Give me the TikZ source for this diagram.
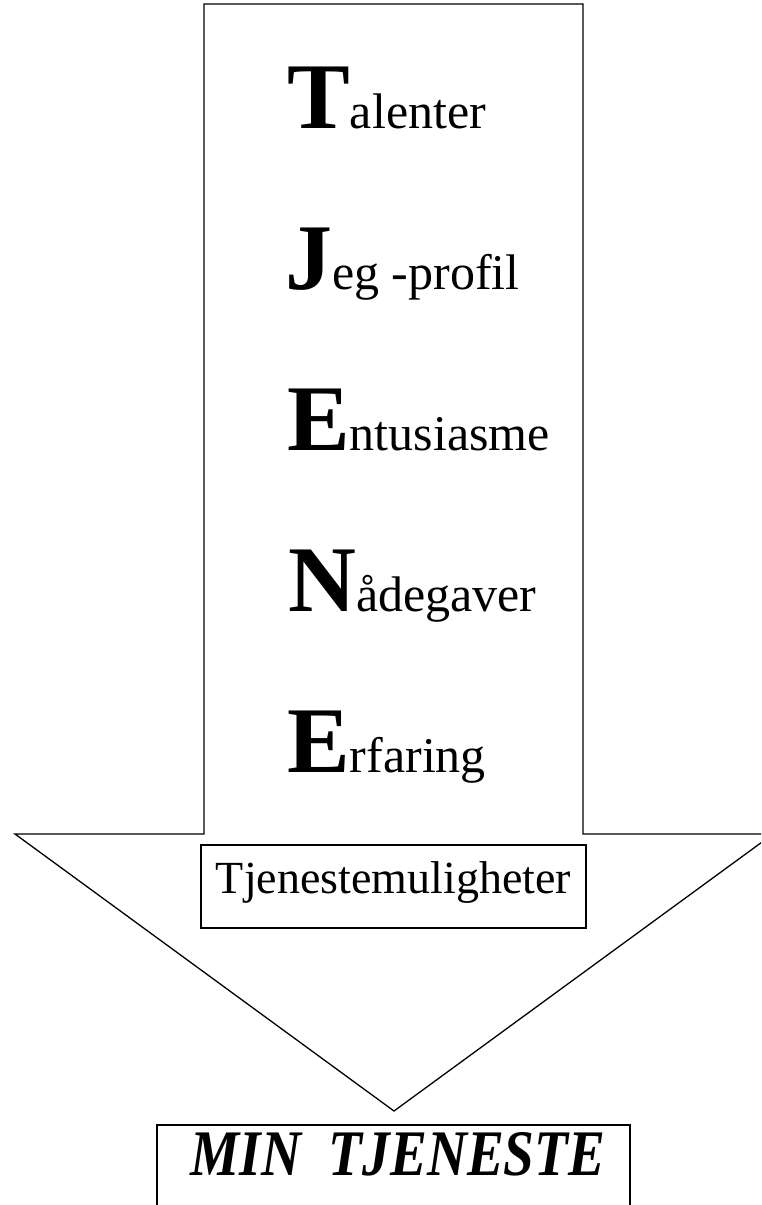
\documentclass[tikz,border=0pt]{standalone}
\usepackage{fontspec}
\setmainfont{Liberation Serif}
\tikzset{
  outline/.style={draw=black, line width=1.3pt, line join=miter},
  word/.style={anchor=base west, inner sep=0pt},
  boxtext/.style={draw=black, line width=1.2pt, inner sep=0pt, minimum width=385pt, minimum height=83pt,
    text height=31pt, text depth=18pt, font=\fontsize{46}{52}\selectfont}
}
\newcommand{\bigini}[1]{{\fontsize{94}{94}\selectfont\bfseries #1}}
\newcommand{\restword}[1]{{\fontsize{50}{60}\selectfont #1}}
\begin{document}
\begin{tikzpicture}[x=1pt,y=-1pt]
\useasboundingbox (0,0) rectangle (761,1205);
\clip (0,0) rectangle (761,1205);
% big arrow
\draw[outline] (204,4) -- (583,4) -- (583,834) -- (773,834) -- (394,1111) -- (15,834) -- (204,834) -- cycle;
% words
\node[word] (t) at (287,128) {\bigini{T}\restword{alenter}};
\node[word] (j) at (285,289) {\bigini{J}\restword{eg -profil}};
\node[word] (e1) at (287,450) {\bigini{E}\restword{ntusiasme}};
\node[word] (n) at (288,611) {\bigini{N}\restword{ådegaver}};
\node[word] (e2) at (287,772) {\bigini{E}\restword{rfaring}};
% inner box
\node[boxtext] (tm) at (393.5,886.5) {Tjenestemuligheter};
% bottom box
\draw[line width=1.2pt] (157,1240) -- (157,1125) -- (630,1125) -- (630,1240);
\node[anchor=base, inner sep=0pt] (min) at (398,1175)
  {\scalebox{0.85}[1]{\fontsize{65}{70}\selectfont\bfseries\itshape MIN\ \ TJENESTE}};
\end{tikzpicture}
\end{document}
